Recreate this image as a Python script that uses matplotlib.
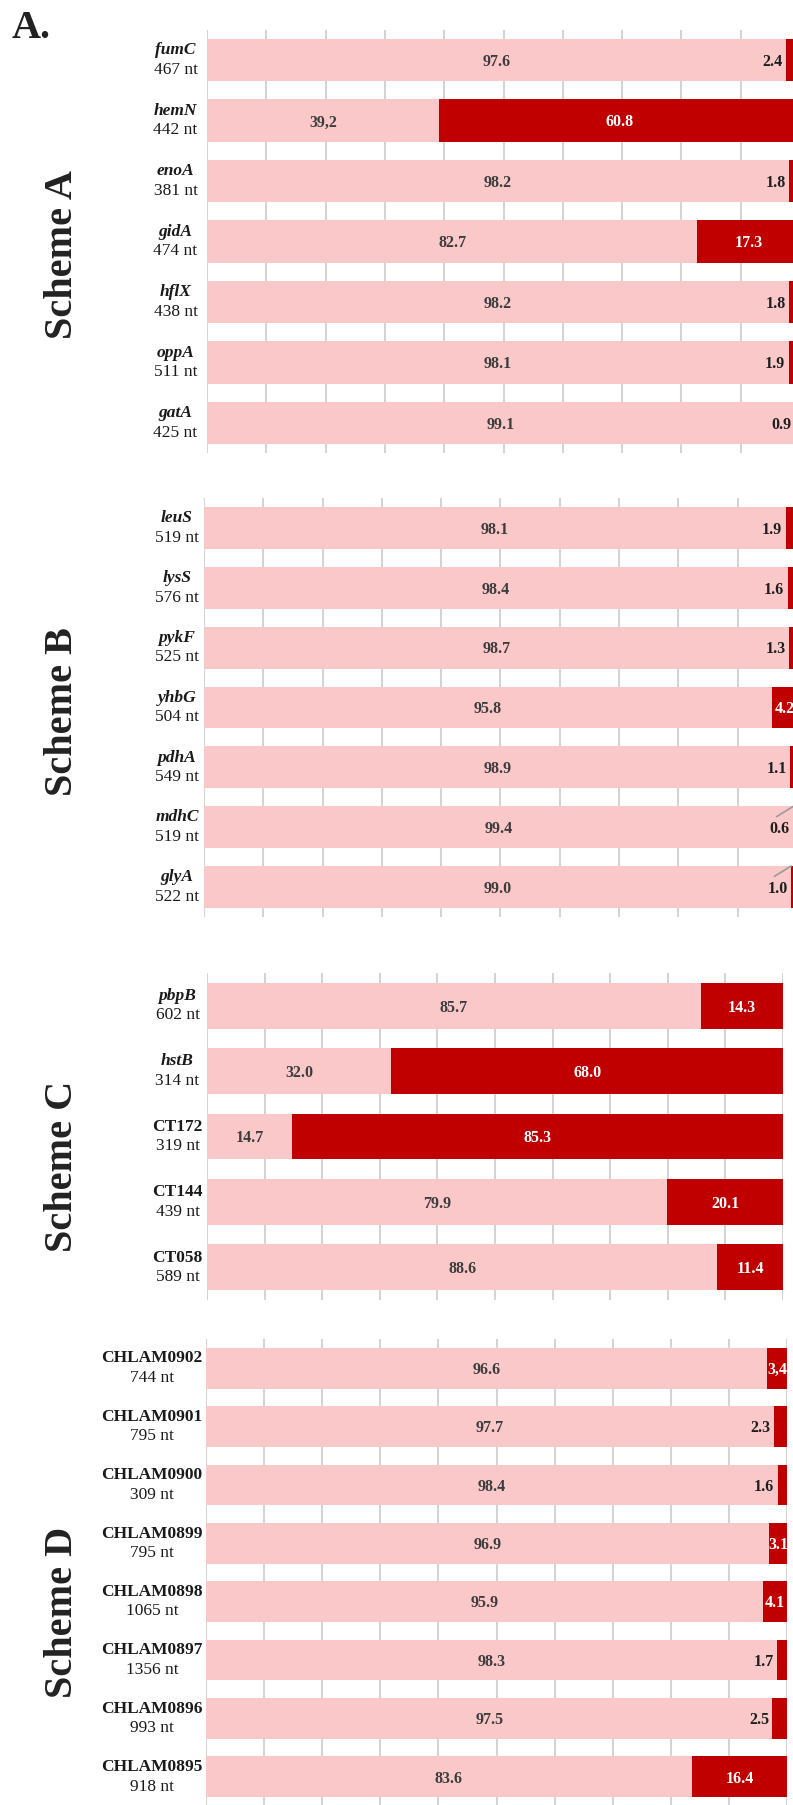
import matplotlib.pyplot as plt
import matplotlib.transforms as mtransforms
from matplotlib.offsetbox import TextArea, VPacker, AnnotationBbox

plt.rcParams['font.family'] = ['Liberation Serif', 'DejaVu Serif']

# Scheme A
genes_a = ['fumC', 'hemN', 'enoA', 'gidA', 'hflX', 'oppA', 'gatA']
len_a = [467, 442, 381, 474, 438, 511, 425]
light_a = ['97.6', '39,2', '98.2', '82.7', '98.2', '98.1', '99.1']
dark_a = ['2.4', '60.8', '1.8', '17.3', '1.8', '1.9', '0.9']

# Scheme B
genes_b = ['leuS', 'lysS', 'pykF', 'yhbG', 'pdhA', 'mdhC', 'glyA']
len_b = [519, 576, 525, 504, 549, 519, 522]
light_b = ['98.1', '98.4', '98.7', '95.8', '98.9', '99.4', '99.0']
dark_b = ['1.9', '1.6', '1.3', '4.2', '1.1', '0.6', '1.0']
leader_b = ['mdhC', 'glyA']

# Scheme C
genes_c = ['pbpB', 'hstB', 'CT172', 'CT144', 'CT058']
len_c = [602, 314, 319, 439, 589]
light_c = ['85.7', '32.0', '14.7', '79.9', '88.6']
dark_c = ['14.3', '68.0', '85.3', '20.1', '11.4']

# Scheme D
genes_d = ['CHLAM0902', 'CHLAM0901', 'CHLAM0900', 'CHLAM0899',
           'CHLAM0898', 'CHLAM0897', 'CHLAM0896', 'CHLAM0895']
len_d = [744, 795, 309, 795, 1065, 1356, 993, 918]
light_d = ['96.6', '97.7', '98.4', '96.9', '95.9', '98.3', '97.5', '83.6']
dark_d = ['3,4', '2.3', '1.6', '3.1', '4.1', '1.7', '2.5', '16.4']

LIGHT = '#fbc8c9'
DARK = '#c00000'
GRID = '#d4d4d4'

W, H = 793, 1805
fig = plt.figure(figsize=(W / 100, H / 100), dpi=100)


def num(s):
    return float(s.replace(',', '.'))


def panel(x0, x100, top, bottom, label_x, genes, lens, light, dark, leaders=()):
    ax = fig.add_axes([x0 / W, 1 - bottom / H, (x100 - x0) / W, (bottom - top) / H])
    n = len(genes)
    lv = [num(s) for s in light]
    dv = [num(s) for s in dark]
    y = list(range(n))
    ax.barh(y, lv, height=0.7, color=LIGHT, zorder=2)
    ax.barh(y, dv, left=lv, height=0.7, color=DARK, zorder=2)
    for x in range(0, 101, 10):
        ax.axvline(x, color=GRID, lw=1.5, zorder=1)
    ax.set_xlim(0, 100)
    ax.set_ylim(n - 0.5, -0.5)
    ax.axis('off')

    # gene labels sit at a fixed x in the figure, on the bar's row
    trans = mtransforms.blended_transform_factory(fig.transFigure, ax.transData)

    for i in y:
        # light share, centred in its segment
        ax.text(lv[i] / 2, i + 0.03, light[i], ha='center', va='center',
                fontsize=11.5, fontweight='bold', color='#3c3c3c', zorder=3)
        # dark share: inside when wide enough, else just left of it
        if dv[i] >= 3:
            ax.text(lv[i] + dv[i] / 2, i + 0.03, dark[i], ha='center', va='center',
                    fontsize=11.5, fontweight='bold', color='white', zorder=3)
        else:
            ax.annotate(dark[i], (lv[i], i + 0.03), xytext=(-2.5, 0),
                        textcoords='offset points', ha='right', va='center',
                        fontsize=11.5, fontweight='bold', color='#1e1e1e', zorder=3,
                        annotation_clip=False)
        if genes[i] in leaders:
            ax.plot([lv[i] - 2.8, lv[i]], [i - 0.18, i - 0.35], color='#9a9a9a',
                    lw=1.2, zorder=3, clip_on=False)

        # gene name over length
        style = 'italic' if genes[i][0].islower() else 'normal'
        t1 = TextArea(genes[i], textprops=dict(fontsize=12.5, fontweight='bold',
                                               fontstyle=style, color='#1a1a1a'))
        t2 = TextArea(f'{lens[i]} nt', textprops=dict(fontsize=12.5, color='#1a1a1a'))
        box = VPacker(children=[t1, t2], align='center', pad=0, sep=2.5)
        ab = AnnotationBbox(box, (label_x / W, i), xycoords=trans,
                            box_alignment=(0.5, 0.5), frameon=False, pad=0,
                            annotation_clip=False)
        ax.add_artist(ab)
    return ax


panel(207, 800, 30, 453, 175.5, genes_a, len_a, light_a, dark_a)
panel(204, 797, 498, 917, 177, genes_b, len_b, light_b, dark_b, leader_b)
panel(207, 783, 973, 1300, 177.5, genes_c, len_c, light_c, dark_c)
panel(206, 787, 1339, 1806, 152, genes_d, len_d, light_d, dark_d)

for name, yc in [('Scheme A', 255), ('Scheme B', 712), ('Scheme C', 1166), ('Scheme D', 1612)]:
    fig.text(62 / W, 1 - yc / H, name, rotation=90, ha='center', va='center',
             fontsize=29, fontweight='bold', color='#222222')

fig.text(12 / W, 1 - 38 / H, 'A.', ha='left', va='baseline', fontsize=29,
         fontweight='bold', color='#222222')

fig.savefig('out.png', dpi=100)
